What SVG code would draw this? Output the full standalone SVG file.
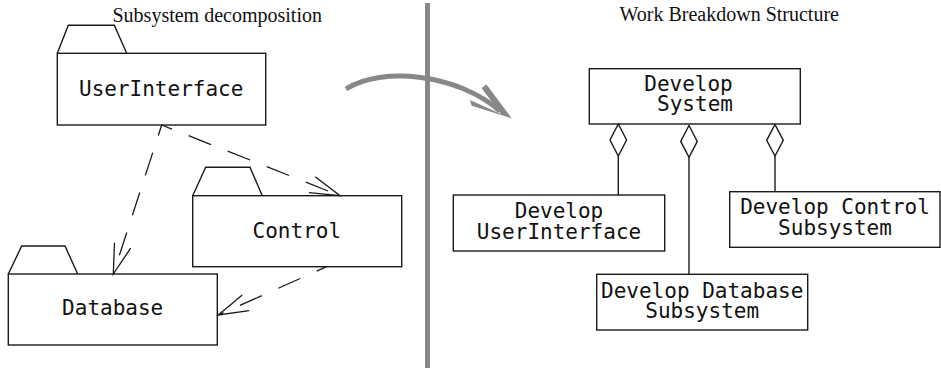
<svg xmlns="http://www.w3.org/2000/svg" width="941" height="369" viewBox="0 0 941 369">
<style>
.box{fill:#fff;stroke:#1a1a1a;stroke-width:1.4}
.tab{fill:none;stroke:#1a1a1a;stroke-width:1.4}
.mono{font-family:"DejaVu Sans Mono","Liberation Mono",monospace;font-size:21px;fill:#111;text-anchor:middle}
.title{font-family:"Liberation Serif","Times New Roman",serif;font-size:20px;fill:#111}
.dep{fill:none;stroke:#1a1a1a;stroke-width:1.3;stroke-dasharray:24 18;stroke-dashoffset:13}
.agg{fill:none;stroke:#1a1a1a;stroke-width:1.4}
.dia{fill:#fff;stroke:#1a1a1a;stroke-width:1.4}
.gray{stroke:#888;stroke-width:5;fill:none}
</style>
<defs>
<marker id="open" markerUnits="userSpaceOnUse" markerWidth="40" markerHeight="24" refX="30" refY="12" orient="auto" overflow="visible">
<path d="M0,3.5 L30,12 L0,20.5" fill="none" stroke="#1a1a1a" stroke-width="1.3" stroke-dasharray="none"/>
</marker>
</defs>
<rect width="941" height="369" fill="#fff"/>

<text class="title" x="112.5" y="21.5">Subsystem decomposition</text>
<text class="title" x="619.5" y="21">Work Breakdown Structure</text>

<g id="divider">
<line class="gray" x1="427.5" y1="3" x2="427.5" y2="368"/>
</g>

<g id="transform-arrow">
<path class="gray" d="M346,89 C382,66 458,74 500,111"/>
<polygon points="511.7,118.3 486.5,84.5 481.5,88 501,114.1 470,100 471.7,105.7" fill="#888"/>
</g>

<g id="UserInterface">
<polyline class="tab" points="57.3,53.3 68.3,25.3 114.3,25.3 126.7,53.3"/>
<rect class="box" x="57.3" y="53.3" width="208.4" height="71.7"/>
<text class="mono" x="161.2" y="96">UserInterface</text>
</g>

<g id="Control">
<polyline class="tab" points="192.7,195.7 205.7,167.3 250,167.3 262.3,195.7"/>
<rect class="box" x="192.7" y="195.7" width="209" height="71"/>
<text class="mono" x="296.8" y="237.7">Control</text>
</g>

<g id="Database">
<polyline class="tab" points="8.3,274 21.7,246 65,246 77.7,274"/>
<rect class="box" x="8.3" y="274" width="209" height="71"/>
<text class="mono" x="112.7" y="315">Database</text>
</g>

<g id="DevelopSystem">
<rect class="box" x="589.3" y="68.7" width="211" height="55.3"/>
<text class="mono" x="688.5" y="90.7">Develop</text>
<text class="mono" x="695" y="110.7">System</text>
</g>

<g id="DevelopUserInterface">
<rect class="box" x="453.3" y="195" width="211.4" height="56"/>
<text class="mono" x="559" y="217.7">Develop</text>
<text class="mono" x="559" y="239">UserInterface</text>
</g>

<g id="DevelopControlSubsystem">
<rect class="box" x="729.7" y="191.7" width="210.3" height="55.6"/>
<text class="mono" x="835" y="214">Develop Control</text>
<text class="mono" x="835" y="235">Subsystem</text>
</g>

<g id="DevelopDatabaseSubsystem">
<rect class="box" x="596.7" y="274.3" width="211" height="55.7"/>
<text class="mono" x="702.2" y="297.7">Develop Database</text>
<text class="mono" x="702.2" y="317.7">Subsystem</text>
</g>

<g id="connectors">
<line class="dep" x1="161.7" y1="125" x2="113.3" y2="274" marker-end="url(#open)"/>
<line class="dep" x1="161.7" y1="125" x2="340" y2="195.7" marker-end="url(#open)"/>
<line class="dep" x1="326.7" y1="266.7" x2="218.3" y2="315" marker-end="url(#open)"/>
<line class="agg" x1="618.3" y1="156" x2="618.3" y2="195"/>
<polygon class="dia" points="618.3,124 626.6,140 618.3,156 610,140"/>
<line class="agg" x1="689" y1="157.3" x2="689" y2="274.3"/>
<polygon class="dia" points="689,125.5 697.3,141.4 689,157.3 680.7,141.4"/>
<line class="agg" x1="775" y1="156" x2="775" y2="191.7"/>
<polygon class="dia" points="775,124.5 783.3,140.3 775,156 766.7,140.3"/>
</g>
</svg>
